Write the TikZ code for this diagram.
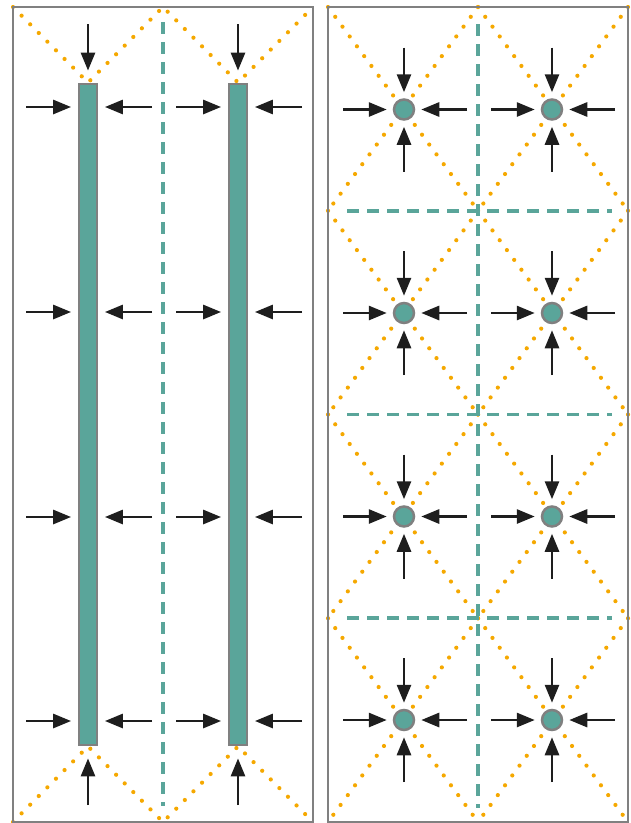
\documentclass[tikz,border=0pt]{standalone}
\usepackage{tikz}
\usetikzlibrary{arrows.meta}
\definecolor{tealfill}{HTML}{5AA59A}
\definecolor{framegray}{HTML}{808080}
\definecolor{dotorange}{HTML}{F5A800}
\definecolor{forceblack}{HTML}{1E1E1E}

\begin{document}
\begin{tikzpicture}[x=1pt,y=-1pt]

    \tikzset{
      FrameStyle/.style = {draw=framegray, line width=2.2pt},
      AxisStyle/.style = {draw=tealfill, line width=3.8pt,
                          dash pattern=on 12pt off 8pt},
      DiagStyle/.style = {draw=dotorange, line width=4.2pt, line cap=round,
                          dash pattern=on 0pt off 12.2pt},
      BarStyle/.style = {rectangle, draw=framegray, fill=tealfill,
                         line width=2.8pt, inner sep=0pt,
                         minimum width=18pt, minimum height=661pt},
      VertexStyle/.style = {circle, draw=framegray, fill=tealfill,
                            line width=2.5pt, inner sep=0pt, minimum size=20pt},
      ForceStyle/.style = {draw=forceblack, line width=2.8pt,
                           -{Triangle[length=18pt,width=14pt]}} }
    \useasboundingbox (0,0) rectangle (630,823);

    % left panel: two bars
    \node[BarStyle] (bar1) at (88,414.5) {};
    \node[BarStyle] (bar2) at (238,414.5) {};
    \coordinate (LT) at (13,7);
    \coordinate (MT) at (163,7);
    \coordinate (RT) at (313,7);
    \coordinate (LB) at (13,822);
    \coordinate (MB) at (163,822);
    \coordinate (RB) at (313,822);
    \draw[DiagStyle] (LT) -- (bar1.north) -- (MT) -- (bar2.north) -- (RT);
    \draw[DiagStyle] (LB) -- (bar1.south) -- (MB) -- (bar2.south) -- (RB);
    \draw[AxisStyle] (163,22) -- (163,806);
    \draw[FrameStyle] (LT) rectangle (RB);
    \node[BarStyle] at (bar1) {};
    \node[BarStyle] at (bar2) {};

    \foreach \b/\c in {bar1/88,bar2/238}{
      \draw[ForceStyle, shorten >=12pt] (\c,24) -- (\b.north);
      \draw[ForceStyle, shorten >=12pt] (\c,805) -- (\b.south);
      \foreach \y in {107,312,517,721}{
        \draw[ForceStyle, shorten >=6.5pt] (\c-62,\y) -- (\b.west |- 0,\y);
        \draw[ForceStyle, shorten >=6.5pt] (\c+64,\y) -- (\b.east |- 0,\y);
      }
    }

    % right panel: eight points
    \foreach \ya/\yb in {7/210.75,210.75/414.5,414.5/618.25,618.25/822}{
      \foreach \xa/\xb in {328/478,478/628}{
        \draw[DiagStyle] (\xa,\ya) -- (\xb,\yb);
        \draw[DiagStyle] (\xb,\ya) -- (\xa,\yb);
      }
    }
    \draw[AxisStyle] (478,24) -- (478,808);
    \foreach \y in {210.75,414.5,618.25}
      \draw[AxisStyle] (347,\y) -- (612,\y);
    \draw[FrameStyle] (328,7) rectangle (628,822);

    \foreach \r/\cy in {1/109.5,2/313,3/516.5,4/720}{
      \foreach \k/\cx in {1/404,2/552}{
        \node[VertexStyle] (p\r\k) at (\cx,\cy) {};
        \draw[ForceStyle, shorten >=6pt] (\cx-61,\cy) -- (p\r\k.west);
        \draw[ForceStyle, shorten >=6pt] (\cx+63,\cy) -- (p\r\k.east);
        \draw[ForceStyle, shorten >=6pt] (\cx,\cy-62) -- (p\r\k.north);
        \draw[ForceStyle, shorten >=6pt] (\cx,\cy+62) -- (p\r\k.south);
      }
    }
\end{tikzpicture}
\end{document}
